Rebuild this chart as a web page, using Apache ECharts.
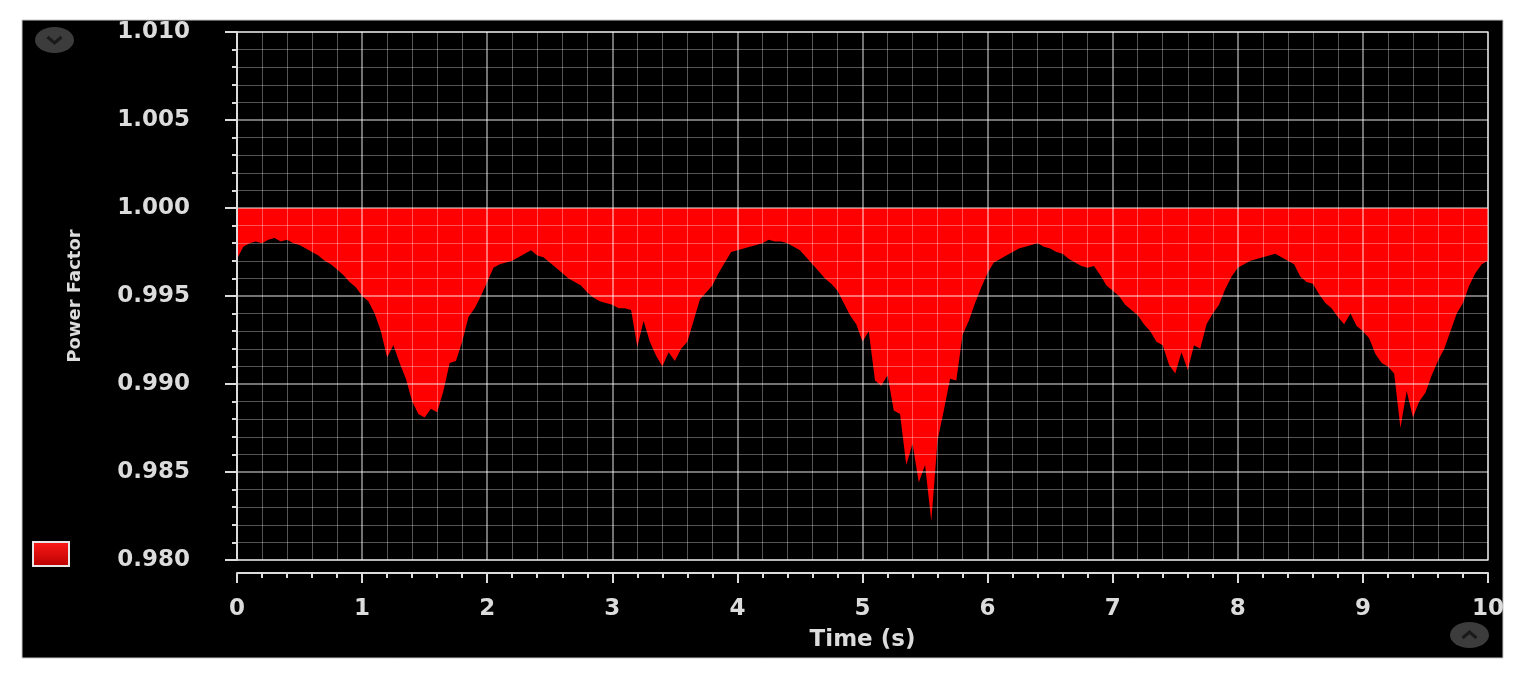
<!DOCTYPE html>
<html>
<head>
<meta charset="utf-8">
<script src="https://cdn.jsdelivr.net/npm/echarts@6/dist/echarts.min.js"></script>
<style>
  html, body { margin: 0; padding: 0; background: #fff; }
  #chart { width: 1525px; height: 682px; }
</style>
</head>
<body>
<div id="chart"></div>
<script>
// Sample times (s)
const timeS = [
  0, 0.05, 0.1, 0.15, 0.2, 0.25, 0.3, 0.35, 0.4, 0.45, 0.5, 0.55, 0.6, 0.65, 0.7, 0.75, 0.8, 0.85, 0.9, 0.95,
  1, 1.05, 1.1, 1.15, 1.2, 1.25, 1.3, 1.35, 1.4, 1.45, 1.5, 1.55, 1.6, 1.65, 1.7, 1.75, 1.8, 1.85, 1.9, 1.95,
  2, 2.05, 2.1, 2.15, 2.2, 2.25, 2.3, 2.35, 2.4, 2.45, 2.5, 2.55, 2.6, 2.65, 2.7, 2.75, 2.8, 2.85, 2.9, 2.95,
  3, 3.05, 3.1, 3.15, 3.2, 3.25, 3.3, 3.35, 3.4, 3.45, 3.5, 3.55, 3.6, 3.65, 3.7, 3.75, 3.8, 3.85, 3.9, 3.95,
  4, 4.05, 4.1, 4.15, 4.2, 4.25, 4.3, 4.35, 4.4, 4.45, 4.5, 4.55, 4.6, 4.65, 4.7, 4.75, 4.8, 4.85, 4.9, 4.95,
  5, 5.05, 5.1, 5.15, 5.2, 5.25, 5.3, 5.35, 5.4, 5.45, 5.5, 5.55, 5.6, 5.65, 5.7, 5.75, 5.8, 5.85, 5.9, 5.95,
  6, 6.05, 6.1, 6.15, 6.2, 6.25, 6.3, 6.35, 6.4, 6.45, 6.5, 6.55, 6.6, 6.65, 6.7, 6.75, 6.8, 6.85, 6.9, 6.95,
  7, 7.05, 7.1, 7.15, 7.2, 7.25, 7.3, 7.35, 7.4, 7.45, 7.5, 7.55, 7.6, 7.65, 7.7, 7.75, 7.8, 7.85, 7.9, 7.95,
  8, 8.05, 8.1, 8.15, 8.2, 8.25, 8.3, 8.35, 8.4, 8.45, 8.5, 8.55, 8.6, 8.65, 8.7, 8.75, 8.8, 8.85, 8.9, 8.95,
  9, 9.05, 9.1, 9.15, 9.2, 9.25, 9.3, 9.35, 9.4, 9.45, 9.5, 9.55, 9.6, 9.65, 9.7, 9.75, 9.8, 9.85, 9.9, 9.95,
  10
];

// Power factor
const powerFactor = [
  0.9971, 0.9978, 0.9980, 0.9981, 0.9980, 0.9982, 0.9983, 0.9981, 0.9982, 0.9980, 0.9979, 0.9977, 0.9975, 0.9973, 0.9970, 0.9968, 0.9965, 0.9962, 0.9958, 0.9955,
  0.9950, 0.9947, 0.9940, 0.9930, 0.9915, 0.9922, 0.9912, 0.9903, 0.9890, 0.9883, 0.9881, 0.9886, 0.9884, 0.9896, 0.9912, 0.9913, 0.9924, 0.9938, 0.9943, 0.9950,
  0.9958, 0.9966, 0.9968, 0.9969, 0.9970, 0.9972, 0.9974, 0.9976, 0.9973, 0.9972, 0.9969, 0.9966, 0.9963, 0.9960, 0.9958, 0.9956, 0.9952, 0.9949, 0.9947, 0.9946,
  0.9945, 0.9943, 0.9943, 0.9942, 0.9921, 0.9936, 0.9924, 0.9916, 0.9910, 0.9918, 0.9913, 0.9920, 0.9924, 0.9936, 0.9948, 0.9952, 0.9956, 0.9963, 0.9969, 0.9975,
  0.9976, 0.9977, 0.9978, 0.9979, 0.9980, 0.9982, 0.9981, 0.9981, 0.9980, 0.9978, 0.9976, 0.9972, 0.9968, 0.9964, 0.9960, 0.9957, 0.9953, 0.9946, 0.9939, 0.9934,
  0.9924, 0.9930, 0.9902, 0.9899, 0.9905, 0.9885, 0.9883, 0.9854, 0.9866, 0.9844, 0.9854, 0.9822, 0.9868, 0.9885, 0.9903, 0.9902, 0.9928, 0.9936, 0.9946, 0.9955,
  0.9963, 0.9969, 0.9971, 0.9973, 0.9975, 0.9977, 0.9978, 0.9979, 0.9980, 0.9978, 0.9977, 0.9975, 0.9974, 0.9971, 0.9969, 0.9967, 0.9966, 0.9967, 0.9962, 0.9956,
  0.9953, 0.9950, 0.9945, 0.9942, 0.9939, 0.9934, 0.9930, 0.9924, 0.9922, 0.9911, 0.9906, 0.9918, 0.9908, 0.9922, 0.9920, 0.9934, 0.9940, 0.9945, 0.9954, 0.9961,
  0.9966, 0.9968, 0.9970, 0.9971, 0.9972, 0.9973, 0.9974, 0.9972, 0.9970, 0.9968, 0.9961, 0.9958, 0.9957, 0.9951, 0.9946, 0.9943, 0.9938, 0.9934, 0.9940, 0.9933,
  0.9930, 0.9926, 0.9917, 0.9912, 0.9910, 0.9906, 0.9875, 0.9896, 0.9881, 0.9890, 0.9895, 0.9905, 0.9913, 0.9920, 0.9930, 0.9940, 0.9946, 0.9956, 0.9963, 0.9968,
  0.9970
];

const refLevel = 1.0;
const yTicks = [0.980, 0.985, 0.990, 0.995, 1.000, 1.005, 1.010];
const xTicks = [0, 1, 2, 3, 4, 5, 6, 7, 8, 9, 10];

(function () {
    'use strict';

    const chart = echarts.init(document.getElementById('chart'), null, { renderer: 'canvas' });
    const fg = '#dcdcdc';
    const font = 'DejaVu Sans, Liberation Sans, Arial, sans-serif';

    const pfData = timeS.map((t, i) => [t, powerFactor[i]]);

    const redFill = new echarts.graphic.LinearGradient(0, 0, 0, 1, [
        { offset: 0, color: '#ff1a1a' },
        { offset: 1, color: '#b80000' }
    ]);

    const option = {
        backgroundColor: '#ffffff',
        animation: false,
        textStyle: { fontFamily: font },
        graphic: [
            {
                type: 'rect', z: -10, silent: true,
                shape: { x: 22, y: 20, width: 1481, height: 638 },
                style: { fill: '#000', stroke: '#c8c8c8', lineWidth: 1 }
            },
            {
                type: 'group', left: 35, top: 27, silent: true,
                children: [
                    { type: 'circle', shape: { cx: 20, cy: 13, r: 13 }, scaleX: 1.5, originX: 20, style: { fill: '#3c3c3c' } },
                    { type: 'polyline', shape: { points: [[13, 10], [20, 16], [27, 10]] }, style: { stroke: '#1a1a1a', lineWidth: 3, fill: null } }
                ]
            },
            {
                type: 'group', left: 1450, top: 622, silent: true,
                children: [
                    { type: 'circle', shape: { cx: 20, cy: 13, r: 13 }, scaleX: 1.5, originX: 20, style: { fill: '#3c3c3c' } },
                    { type: 'polyline', shape: { points: [[13, 16], [20, 10], [27, 16]] }, style: { stroke: '#1a1a1a', lineWidth: 3, fill: null } }
                ]
            }
        ],
        legend: {
            left: 32, top: 541,
            padding: 0,
            itemWidth: 36, itemHeight: 24,
            icon: 'rect',
            formatter: () => '',
            data: [{
                name: 'Power Factor',
                itemStyle: { color: redFill, borderColor: '#e6e6e6', borderWidth: 2 }
            }]
        },
        grid: {
            left: 237, top: 32, right: 37, bottom: 122,
            show: true,
            backgroundColor: '#000',
            borderColor: '#a8a8a8',
            borderWidth: 1.5
        },
        xAxis: {
            type: 'value',
            min: xTicks[0], max: xTicks[xTicks.length - 1], interval: 1,
            offset: 13,
            z: 5,
            name: 'Time (s)',
            nameLocation: 'middle',
            nameGap: 56,
            nameTextStyle: { color: fg, fontSize: 23, fontWeight: 'bold', fontFamily: font },
            axisLine: { show: true, onZero: false, lineStyle: { color: fg, width: 2 } },
            axisTick: { show: true, length: 10, lineStyle: { color: fg, width: 2 } },
            minorTick: { show: true, splitNumber: 5, length: 5, lineStyle: { color: fg, width: 2 } },
            axisLabel: { color: fg, fontSize: 23, fontWeight: 'bold', margin: 25, fontFamily: font },
            splitLine: { show: true, lineStyle: { color: 'rgba(255,255,255,0.6)', width: 1.5 } },
            minorSplitLine: { show: true, lineStyle: { color: 'rgba(255,255,255,0.33)', width: 1 } }
        },
        yAxis: {
            type: 'value',
            min: yTicks[0], max: yTicks[yTicks.length - 1], interval: 0.005,
            offset: 19,
            z: 5,
            name: 'Power Factor',
            nameLocation: 'middle',
            nameGap: 134,
            nameTextStyle: { color: fg, fontSize: 18, fontWeight: 'bold', fontFamily: font },
            axisLine: { show: true, lineStyle: { color: fg, width: 2 } },
            axisTick: { show: true, length: 12, lineStyle: { color: fg, width: 2 } },
            minorTick: { show: true, splitNumber: 5, length: 5, lineStyle: { color: fg, width: 2 } },
            axisLabel: {
                color: fg, fontSize: 23, fontWeight: 'bold', margin: 28, fontFamily: font,
                formatter: v => v.toFixed(3)
            },
            splitLine: { show: true, lineStyle: { color: 'rgba(255,255,255,0.6)', width: 1.5 } },
            minorSplitLine: { show: true, lineStyle: { color: 'rgba(255,255,255,0.33)', width: 1 } }
        },
        series: [
            {
                name: 'Power Factor',
                type: 'line',
                data: pfData,
                symbol: 'none',
                lineStyle: { width: 0, color: '#ff0000' },
                itemStyle: { color: '#ff0000' },
                areaStyle: { color: '#ff0000', opacity: 1, origin: refLevel },
                z: 1
            }
        ]
    };

    chart.setOption(option);
})();
</script>
</body>
</html>
